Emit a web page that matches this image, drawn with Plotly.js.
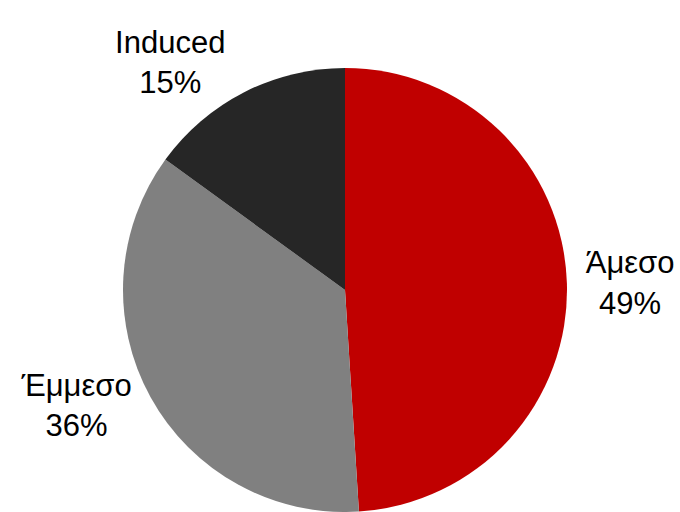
<!DOCTYPE html>
<html>
<head>
<meta charset="utf-8">
<script src="https://cdn.plot.ly/plotly-3.0.1.min.js"></script>
<style>html,body{margin:0;padding:0;background:#fff;}#chart{width:680px;height:512px;}</style>
</head>
<body>
<div id="chart"></div>
<script>
var categories = ["Άμεσο", "Έμμεσο", "Induced"];
var values = [49, 36, 15];
var colors = ["#C00000", "#808080", "#262626"];

var trace = {
  type: "pie",
  labels: categories,
  values: values,
  sort: false,
  direction: "clockwise",
  rotation: 0,
  marker: {colors: colors, line: {width: 0}},
  textinfo: "label+percent",
  textposition: "outside",
  automargin: false,
  outsidetextfont: {family: "Liberation Sans, Arial, sans-serif", size: 31, color: "#000000"},
  hoverinfo: "none",
  showlegend: false
};

var layout = {
  width: 680,
  height: 512,
  margin: {l: 10, r: 0, t: 68, b: 0},
  paper_bgcolor: "#ffffff",
  showlegend: false,
  font: {family: "Liberation Sans, Arial, sans-serif", size: 31, color: "#000000"}
};

Plotly.newPlot("chart", [trace], layout, {staticPlot: true, displayModeBar: false});
</script>
</body>
</html>
